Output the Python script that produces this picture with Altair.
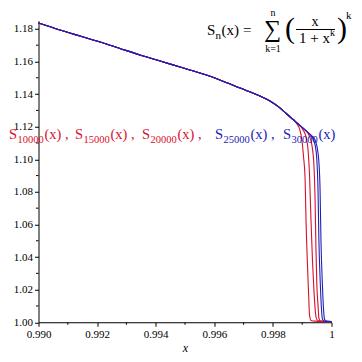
import altair as alt
import pandas as pd

SERIF = "Liberation Serif"
RED = "#d8102c"
BLUE = "#2020b8"

# shared upper branch (all n coincide here)
main_x = [0.99000, 0.99073, 0.99142, 0.99210, 0.99278, 0.99346, 0.99415, 0.99483,
          0.99551, 0.99619, 0.99688, 0.99756, 0.99790, 0.99824, 0.99841, 0.99858]
main_y = [1.1836, 1.1793, 1.1756, 1.1720, 1.1680, 1.1640, 1.1603, 1.1566,
          1.1529, 1.1487, 1.1437, 1.1388, 1.1358, 1.1315, 1.1288, 1.1261]

# tails for each n
n10_x = [0.99869, 0.99882, 0.99892, 0.99899, 0.99904, 0.99910, 0.99913, 0.99918,
         0.99922, 0.99925, 0.99930, 0.99944, 1.0]
n10_y = [1.1244, 1.1217, 1.1180, 1.1118, 1.1026, 1.0873, 1.0628, 1.0352,
         1.0167, 1.0045, 1.0011, 1.0007, 1.0004]

n15_x = [0.99869, 0.99882, 0.99892, 0.99903, 0.99913, 0.99920, 0.99925, 0.99930,
         0.99935, 0.99940, 0.99945, 0.99950, 0.99957, 1.0]
n15_y = [1.1244, 1.1223, 1.1207, 1.1180, 1.1137, 1.1057, 1.0904, 1.0628,
         1.0382, 1.0198, 1.0063, 1.0017, 1.0008, 1.0004]

n20_x = [0.99869, 0.99882, 0.99892, 0.99903, 0.99913, 0.99923, 0.99933, 0.99940,
         0.99944, 0.99947, 0.99950, 0.99954, 0.99957, 0.99962, 1.0]
n20_y = [1.1244, 1.1223, 1.1207, 1.1191, 1.1175, 1.1149, 1.1088, 1.0965,
         1.0750, 1.0444, 1.0229, 1.0106, 1.0026, 1.0008, 1.0004]

n25_x = [0.99869, 0.99882, 0.99892, 0.99903, 0.99913, 0.99923, 0.99933, 0.99944,
         0.99950, 0.99954, 0.99957, 0.99962, 0.99966, 0.99969, 0.99974, 1.0]
n25_y = [1.1244, 1.1223, 1.1207, 1.1191, 1.1175, 1.1159, 1.1138, 1.1088,
         1.0996, 1.0812, 1.0505, 1.0229, 1.0075, 1.0020, 1.0008, 1.0004]

n30_x = [0.99869, 0.99882, 0.99892, 0.99903, 0.99913, 0.99923, 0.99933, 0.99940,
         0.99950, 0.99957, 0.99961, 0.99964, 0.99969, 0.99973, 0.99976, 0.99981, 1.0]
n30_y = [1.1244, 1.1223, 1.1207, 1.1191, 1.1175, 1.1159, 1.1143, 1.1133,
         1.1082, 1.0983, 1.0812, 1.0505, 1.0229, 1.0075, 1.0020, 1.0008, 1.0004]

x_ticks = [0.990, 0.992, 0.994, 0.996, 0.998, 1.0]
x_minor = [0.991, 0.993, 0.995, 0.997, 0.999]
y_ticks = [1.00, 1.02, 1.04, 1.06, 1.08, 1.10, 1.12, 1.14, 1.16, 1.18]
y_minor = [1.01, 1.03, 1.05, 1.07, 1.09, 1.11, 1.13, 1.15, 1.17]

W, H = 293, 301.5
XS = alt.Scale(domain=[0.990, 1.0], nice=False, zero=False)
YS = alt.Scale(domain=[1.0, 1.185], nice=False, zero=False)
XAX = alt.Axis(values=x_ticks, tickSize=4, labelFlush=False,
               labelExpr="datum.value >= 0.9999 ? '1' : format(datum.value, '.3f')",
               title="x", titleFontStyle="italic", titleFontWeight="normal",
               titleFontSize=12, titlePadding=3)
YAX = alt.Axis(values=y_ticks, format=".2f", tickSize=4, title=None)


def series_df(tx, ty, name):
    return pd.DataFrame({"x": main_x + tx, "y": main_y + ty, "s": name})


def line_layer(df, color):
    return alt.Chart(df).mark_line(interpolate="monotone", strokeWidth=1.1, color=color).encode(
        x=alt.X("x:Q", scale=XS, axis=XAX),
        y=alt.Y("y:Q", scale=YS, axis=YAX),
    )


layers = [
    line_layer(series_df(n10_x, n10_y, "10000"), RED),
    line_layer(series_df(n15_x, n15_y, "15000"), RED),
    line_layer(series_df(n20_x, n20_y, "20000"), RED),
    line_layer(series_df(n25_x, n25_y, "25000"), BLUE),
    line_layer(series_df(n30_x, n30_y, "30000"), BLUE),
]

xminor = alt.Chart(pd.DataFrame({"x": x_minor})).mark_rule(color="black", strokeWidth=1).encode(
    x=alt.X("x:Q", scale=XS, axis=XAX), y=alt.value(H), y2=alt.value(H + 2.5))
yminor = alt.Chart(pd.DataFrame({"y": y_minor})).mark_rule(color="black", strokeWidth=1).encode(
    y=alt.Y("y:Q", scale=YS, axis=YAX), x=alt.value(0), x2=alt.value(-2.5))
layers += [xminor, yminor]

ONE = alt.Data(values=[{"a": 1}])
OX, OY = 38.5, 20.75  # page position of plot origin


def txt(s, px, py, size, color="black", align="left"):
    return alt.Chart(ONE).mark_text(text=s, align=align, baseline="alphabetic", font=SERIF,
                                    fontSize=size, color=color).encode(
        x=alt.value(px - OX), y=alt.value(py - OY))


# legend-like labels
legend = [
    ("10000", 9, RED, True), ("15000", 75, RED, True), ("20000", 142, RED, True),
    ("25000", 215, BLUE, True), ("30000", 283, BLUE, False),
]
for sub, px, col, comma in legend:
    layers.append(txt("S", px, 139, 14.5, col))
    layers.append(txt(sub, px + 8.5, 143, 10.5, col))
    layers.append(txt("(x) ," if comma else "(x)", px + 35.5, 139, 14.5, col))

# formula (shifted slightly left so it fits inside the canvas)
D = -4
layers += [
    txt("S", 211 + D, 35, 15), txt("n", 219.5 + D, 39, 11), txt("(x)", 225.5 + D, 35, 15),
    txt("=", 247 + D, 35, 15),
    txt("\u2211", 268 + D, 37, 24), txt("n", 277 + D, 15.5, 10, align="center"),
    txt("k=1", 277 + D, 52, 10, align="center"),
    txt("(", 289 + D, 38, 30), txt("x", 319 + D, 26, 14, align="center"),
    txt("1 + x", 303 + D, 43, 15), txt("k", 334 + D, 36, 10),
    txt(")", 341 + D, 38, 30), txt("k", 350 + D, 19, 11),
]
layers.append(alt.Chart(ONE).mark_rule(color="black", strokeWidth=1).encode(
    x=alt.value(300 + D - OX), x2=alt.value(339 + D - OX), y=alt.value(29.5 - OY)))

chart = alt.layer(*layers).properties(
    width=W, height=H,
    autosize=alt.AutoSizeParams(type="none"),
    padding={"left": 30.5, "top": 12.75, "right": 22.5, "bottom": 31.75},
).configure_view(stroke=None).configure_axis(
    domainColor="black", tickColor="black", labelColor="black", titleColor="black",
    labelFont=SERIF, labelFontSize=11, titleFont=SERIF, grid=False, labelPadding=2,
)

chart.save("out.html", embed_options={"renderer": "svg", "actions": False})
